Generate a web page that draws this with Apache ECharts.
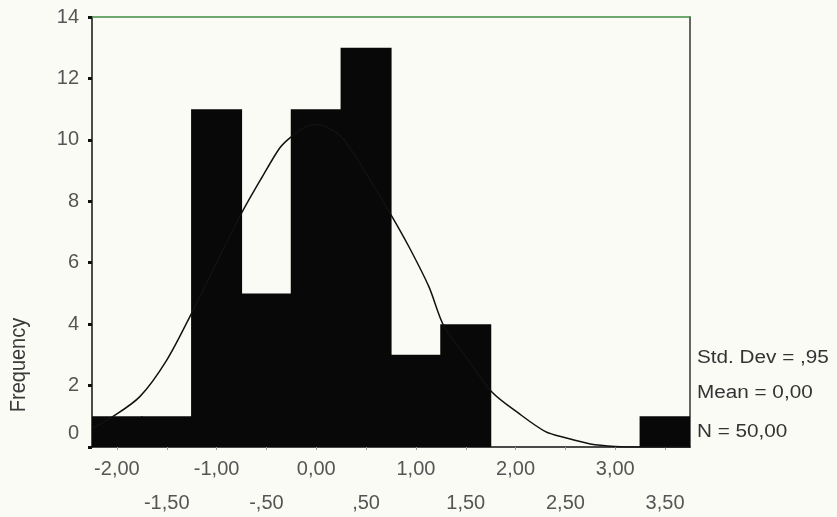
<!DOCTYPE html>
<html>
<head>
<meta charset="utf-8">
<script src="https://cdn.jsdelivr.net/npm/echarts@6/dist/echarts.min.js"></script>
<style>html,body{margin:0;padding:0;background:#fbfbf6;}#c{width:837px;height:517px;}</style>
</head>
<body>
<div id="c"></div>
<script>
// Histogram bins (centers) and frequencies
const categories = ['-2,00','-1,50','-1,00','-,50','0,00',',50','1,00','1,50','2,00','2,50','3,00','3,50'];
const frequencies = [1, 1, 11, 5, 11, 13, 3, 4, 0, 0, 0, 1];
// Normal curve readings from picture: [x value, frequency]
const curveX = [-2.25, -2.05, -1.77, -1.5, -1.25, -1.0, -0.75, -0.55, -0.37, -0.27, -0.12, 0.0, 0.25, 0.5, 0.75, 0.93, 1.13, 1.28, 1.5, 1.76, 2.03, 2.3, 2.5, 2.75, 3.0, 3.25, 3.75];
const curveY = [0.6, 0.97, 1.64, 2.83, 4.36, 6.0, 7.61, 8.75, 9.72, 10.05, 10.4, 10.5, 10.1, 8.9, 7.56, 6.52, 5.22, 3.94, 2.95, 1.8, 1.1, 0.5, 0.3, 0.1, 0.02, 0, 0];
const yTicks = [0, 2, 4, 6, 8, 10, 12, 14];
const statsLines = ['Std. Dev = ,95', 'Mean = 0,00', 'N = 50,00'];

const font = '"Liberation Sans", Arial, sans-serif';
const labelColor = '#555';
const chart = echarts.init(document.getElementById('c'));
chart.setOption({
  backgroundColor: '#fbfbf6',
  animation: false,
  grid: { left: 92, top: 17, right: 147, bottom: 70, containLabel: false, outerBoundsMode: 'none' },
  xAxis: [
    {
      type: 'category', data: categories, position: 'bottom',
      axisLine: { onZero: false, lineStyle: { color: '#111', width: 1.5 } },
      axisTick: { show: true, alignWithLabel: true, length: 3, lineStyle: { color: '#999', width: 1 } },
      axisLabel: {
        interval: 0, color: labelColor, fontFamily: font, fontSize: 20, margin: 12,
        formatter: function (v, i) { return i % 2 === 0 ? v : ''; }
      }
    },
    {
      type: 'value', min: -2.25, max: 3.75, position: 'top',
      axisLine: { show: true, onZero: false, lineStyle: { color: '#3f8f3f', width: 1.5 } },
      axisTick: { show: false }, axisLabel: { show: false }, splitLine: { show: false }
    },
    {
      type: 'category', data: categories, position: 'bottom',
      axisLine: { show: false, onZero: false }, axisTick: { show: false },
      axisLabel: {
        interval: 0, color: labelColor, fontFamily: font, fontSize: 20, margin: 46,
        formatter: function (v, i) { return i % 2 === 1 ? v : ''; }
      }
    }
  ],
  yAxis: [
    {
      type: 'value', min: 0, max: 14, interval: 2,
      axisLine: { show: true, onZero: false, lineStyle: { color: '#111', width: 1.5 } },
      axisTick: { show: true, length: 4, lineStyle: { color: '#111', width: 3 } },
      splitLine: { show: false },
      axisLabel: {
        color: labelColor, fontFamily: font, fontSize: 20, margin: 13,
        formatter: function (v) { return v === 0 ? '{z|0}' : String(v); },
        rich: { z: { fontSize: 20, fontFamily: font, color: labelColor, padding: [0, 0, 28, 0] } }
      }
    },
    {
      type: 'value', min: 0, max: 14, position: 'right',
      axisLine: { show: true, onZero: false, lineStyle: { color: '#333', width: 1.5 } },
      axisTick: { show: false }, axisLabel: { show: false }, splitLine: { show: false }
    }
  ],
  series: [
    {
      type: 'bar', data: frequencies, xAxisIndex: 0, yAxisIndex: 0,
      barWidth: 51, barGap: '0%',
      itemStyle: { color: '#080808' }
    },
    {
      type: 'line', xAxisIndex: 1, yAxisIndex: 0, smooth: 0.3, symbol: 'none',
      data: curveX.map((x, i) => [x, curveY[i]]),
      lineStyle: { color: '#111', width: 1.5 }, z: 5
    }
  ],
  graphic: [
    { type: 'text', x: 19, y: 365, rotation: Math.PI / 2, scaleY: 1.1,
      style: { text: 'Frequency', font: '20px ' + font, fill: '#3a3a3a', align: 'center', verticalAlign: 'middle' } },
    { type: 'text', x: 697, y: 358, scaleX: 1.15,
      style: { text: statsLines[0], font: '18px ' + font, fill: '#333', verticalAlign: 'middle' } },
    { type: 'text', x: 697, y: 393, scaleX: 1.15,
      style: { text: statsLines[1], font: '18px ' + font, fill: '#333', verticalAlign: 'middle' } },
    { type: 'text', x: 697, y: 432, scaleX: 1.15,
      style: { text: statsLines[2], font: '18px ' + font, fill: '#333', verticalAlign: 'middle' } }
  ]
});
</script>
</body>
</html>
